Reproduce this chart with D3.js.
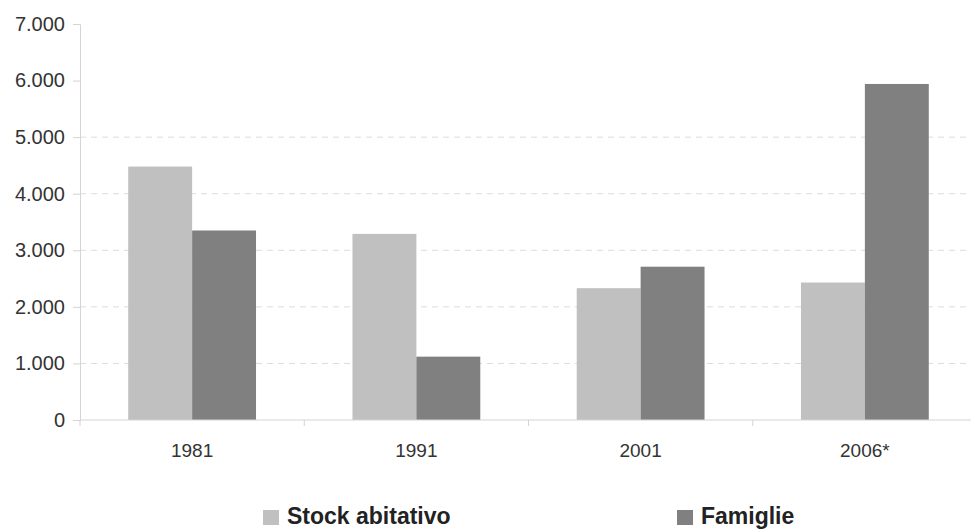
<!DOCTYPE html>
<html>
<head>
<meta charset="utf-8">
<script src="https://cdn.jsdelivr.net/npm/d3@7"></script>
<style>
  html, body { margin: 0; padding: 0; background: #fff; }
  svg { display: block; font-family: "Liberation Sans", Arial, sans-serif; }
</style>
</head>
<body>
<svg id="chart" width="971" height="531"></svg>
<script>
// Housing stock vs. households, by census year
const years = ["1981", "1991", "2001", "2006*"];
const seriesNames = ["Stock abitativo", "Famiglie"];
const stockValues = [4480, 3290, 2330, 2430];
const familyValues = [3350, 1120, 2710, 5940];
const yTicks = [0, 1000, 2000, 3000, 4000, 5000, 6000, 7000];
const gridValues = [1000, 2000, 3000, 4000, 5000];
const colors = ["#c0c0c0", "#808080"];

const svg = d3.select("#chart");
const margin = { left: 80, right: -6, top: 24, bottom: 111 };
const W = 971, H = 531;
const x0 = margin.left, x1 = W - margin.right;
const yBottom = H - margin.bottom, yTop = margin.top;

const x = d3.scaleBand().domain(years).range([x0, x1]).paddingInner(0.43).paddingOuter(0.215);
const xs = d3.scaleBand().domain(seriesNames).range([0, x.bandwidth()]);
const y = d3.scaleLinear().domain([0, 7000]).range([yBottom, yTop]);

const fmt = v => d3.format(",")(v).replace(/,/g, ".");

// dashed gridlines
svg.append("g").selectAll("line")
  .data(gridValues)
  .join("line")
  .attr("x1", x0).attr("x2", x1)
  .attr("y1", d => y(d)).attr("y2", d => y(d))
  .attr("stroke", "#dcdcdc").attr("stroke-width", 1)
  .attr("stroke-dasharray", "6,5");

// bars
const rows = years.map((yr, i) => ({ yr, vals: [stockValues[i], familyValues[i]] }));
svg.append("g").selectAll("g")
  .data(rows)
  .join("g")
  .attr("transform", d => `translate(${x(d.yr)},0)`)
  .selectAll("rect")
  .data(d => d.vals.map((v, j) => ({ name: seriesNames[j], v, j })))
  .join("rect")
  .attr("x", d => xs(d.name))
  .attr("width", xs.bandwidth())
  .attr("y", d => y(d.v))
  .attr("height", d => y(0) - y(d.v))
  .attr("fill", d => colors[d.j]);

// y axis
const yAxis = d3.axisLeft(y).tickValues(yTicks).tickFormat(fmt).tickSize(7).tickPadding(8);
const gy = svg.append("g").attr("transform", `translate(${x0},0)`).call(yAxis);
gy.attr("font-family", null).attr("font-size", null);
gy.select(".domain").attr("stroke", "#d4d4d4");
gy.selectAll(".tick line").attr("stroke", "#d4d4d4");
gy.selectAll(".tick text").attr("font-size", 20).attr("fill", "#333");

// x axis with separators between categories
const gx = svg.append("g").attr("transform", `translate(0,${yBottom})`);
gx.append("line").attr("x1", x0).attr("x2", x1).attr("y1", 0).attr("y2", 0).attr("stroke", "#d4d4d4");
const step = x.step();
const seps = d3.range(years.length + 1).map(i => x0 + i * step);
gx.selectAll("line.sep").data(seps).join("line").attr("class", "sep")
  .attr("x1", d => d).attr("x2", d => d).attr("y1", 0).attr("y2", 6)
  .attr("stroke", "#d4d4d4");
gx.selectAll("text").data(years).join("text")
  .attr("x", d => x(d) + x.bandwidth() / 2)
  .attr("y", 37)
  .attr("text-anchor", "middle")
  .attr("font-size", 19)
  .attr("fill", "#333")
  .text(d => d);

// legend
const legendX = [263, 677];
const lg = svg.append("g").selectAll("g").data(seriesNames).join("g")
  .attr("transform", (d, i) => `translate(${legendX[i]},518)`);
lg.append("rect").attr("x", 0).attr("y", -8).attr("width", 16).attr("height", 15)
  .attr("fill", (d, i) => colors[i]);
lg.append("text").attr("x", 24).attr("y", 6)
  .attr("font-size", 23).attr("font-weight", "bold").attr("fill", "#222")
  .text(d => d);
</script>
</body>
</html>
